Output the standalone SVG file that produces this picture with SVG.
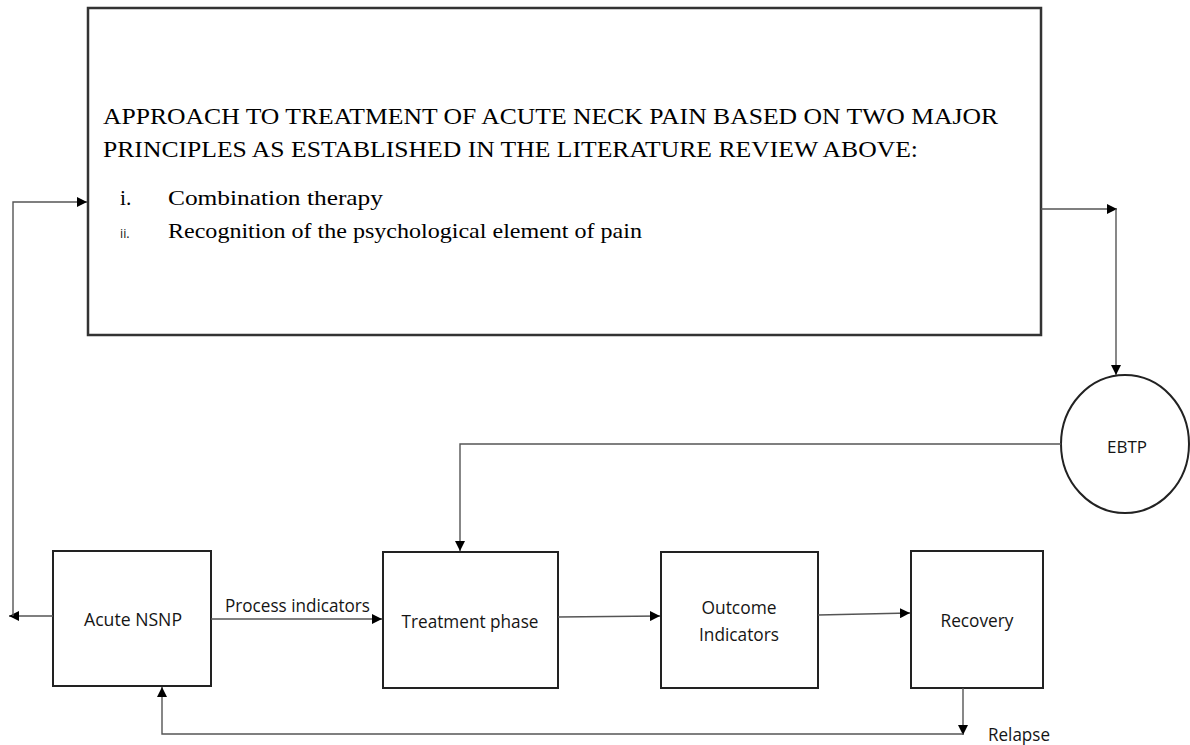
<svg xmlns="http://www.w3.org/2000/svg" width="1190" height="745" viewBox="0 0 1190 745">
  <style>
    .box { fill: #ffffff; stroke: #222222; stroke-width: 2; }
    .big { fill: #ffffff; stroke: #333333; stroke-width: 2.5; }
    .wire { fill: none; stroke: #555555; stroke-width: 1.4; }
    .serif { font-family: "Liberation Serif", "Times New Roman", serif; fill: #000000; }
    .sans { font-family: "Open Sans", "Liberation Sans", sans-serif; fill: #151515; }
  </style>
  <defs>
    <marker id="arrow" viewBox="0 0 10 10" refX="10" refY="5" markerWidth="10" markerHeight="10" markerUnits="userSpaceOnUse" orient="auto">
      <path d="M0,0 L10,5 L0,10 Z" fill="#000000"/>
    </marker>
  </defs>

  <!-- Header box with the two treatment principles -->
  <g id="principles">
    <rect class="big" x="88" y="8" width="953" height="327"/>
    <text class="serif" x="103" y="124" font-size="22.5" textLength="895" lengthAdjust="spacingAndGlyphs">APPROACH TO TREATMENT OF ACUTE NECK PAIN BASED ON TWO MAJOR</text>
    <text class="serif" x="103" y="157" font-size="22.5" textLength="815" lengthAdjust="spacingAndGlyphs">PRINCIPLES AS ESTABLISHED IN THE LITERATURE REVIEW ABOVE:</text>
    <text class="serif" x="120" y="205" font-size="21.5">i.</text>
    <text class="serif" x="168" y="205" font-size="21.5" textLength="215" lengthAdjust="spacingAndGlyphs">Combination therapy</text>
    <text class="sans" x="120" y="238" font-size="12.5">ii.</text>
    <text class="serif" x="168" y="238" font-size="21.5" textLength="474" lengthAdjust="spacingAndGlyphs">Recognition of the psychological element of pain</text>
  </g>

  <g id="ebtp">
    <ellipse class="box" cx="1125" cy="444" rx="64" ry="69"/>
    <text class="sans" x="1127" y="453" font-size="17" text-anchor="middle" textLength="40" lengthAdjust="spacingAndGlyphs">EBTP</text>
  </g>

  <g id="acute-nsnp">
    <rect class="box" x="53" y="551" width="158" height="135"/>
    <text class="sans" x="133" y="626" font-size="17.5" text-anchor="middle" textLength="98" lengthAdjust="spacingAndGlyphs">Acute NSNP</text>
  </g>

  <g id="treatment-phase">
    <rect class="box" x="383" y="552" width="175" height="136"/>
    <text class="sans" x="470" y="628" font-size="17.5" text-anchor="middle" textLength="137" lengthAdjust="spacingAndGlyphs">Treatment phase</text>
  </g>

  <g id="outcome-indicators">
    <rect class="box" x="661" y="552" width="157" height="136"/>
    <text class="sans" x="739" y="614" font-size="17.5" text-anchor="middle" textLength="75" lengthAdjust="spacingAndGlyphs">Outcome</text>
    <text class="sans" x="739" y="641" font-size="17.5" text-anchor="middle" textLength="80" lengthAdjust="spacingAndGlyphs">Indicators</text>
  </g>

  <g id="recovery">
    <rect class="box" x="911" y="551" width="132" height="137"/>
    <text class="sans" x="977" y="627" font-size="17.5" text-anchor="middle" textLength="73" lengthAdjust="spacingAndGlyphs">Recovery</text>
  </g>

  <g id="connectors">
    <!-- Acute NSNP back up to the principles box -->
    <line class="wire" x1="53" y1="616" x2="9" y2="616" marker-end="url(#arrow)"/>
    <polyline class="wire" points="13,616 13,202 87,202" marker-end="url(#arrow)"/>
    <!-- Principles box to EBTP -->
    <line class="wire" x1="1041" y1="209" x2="1117" y2="209" marker-end="url(#arrow)"/>
    <line class="wire" x1="1116" y1="209" x2="1116" y2="375" marker-end="url(#arrow)"/>
    <!-- EBTP feeds the treatment phase -->
    <polyline class="wire" points="1061,444 460,444 460,551" marker-end="url(#arrow)"/>
    <!-- Main pathway -->
    <line class="wire" x1="211" y1="619" x2="382" y2="619" marker-end="url(#arrow)"/>
    <text class="sans" x="225" y="612" font-size="17.5" textLength="145" lengthAdjust="spacingAndGlyphs">Process indicators</text>
    <line class="wire" x1="558" y1="617" x2="660" y2="616" marker-end="url(#arrow)"/>
    <line class="wire" x1="818" y1="615" x2="910" y2="613" marker-end="url(#arrow)"/>
    <!-- Relapse loop -->
    <line class="wire" x1="963" y1="688" x2="963" y2="735" marker-end="url(#arrow)"/>
    <polyline class="wire" points="963,734 162,734 162,687" marker-end="url(#arrow)"/>
    <text class="sans" x="988" y="741" font-size="17.5" textLength="62" lengthAdjust="spacingAndGlyphs">Relapse</text>
  </g>
</svg>
